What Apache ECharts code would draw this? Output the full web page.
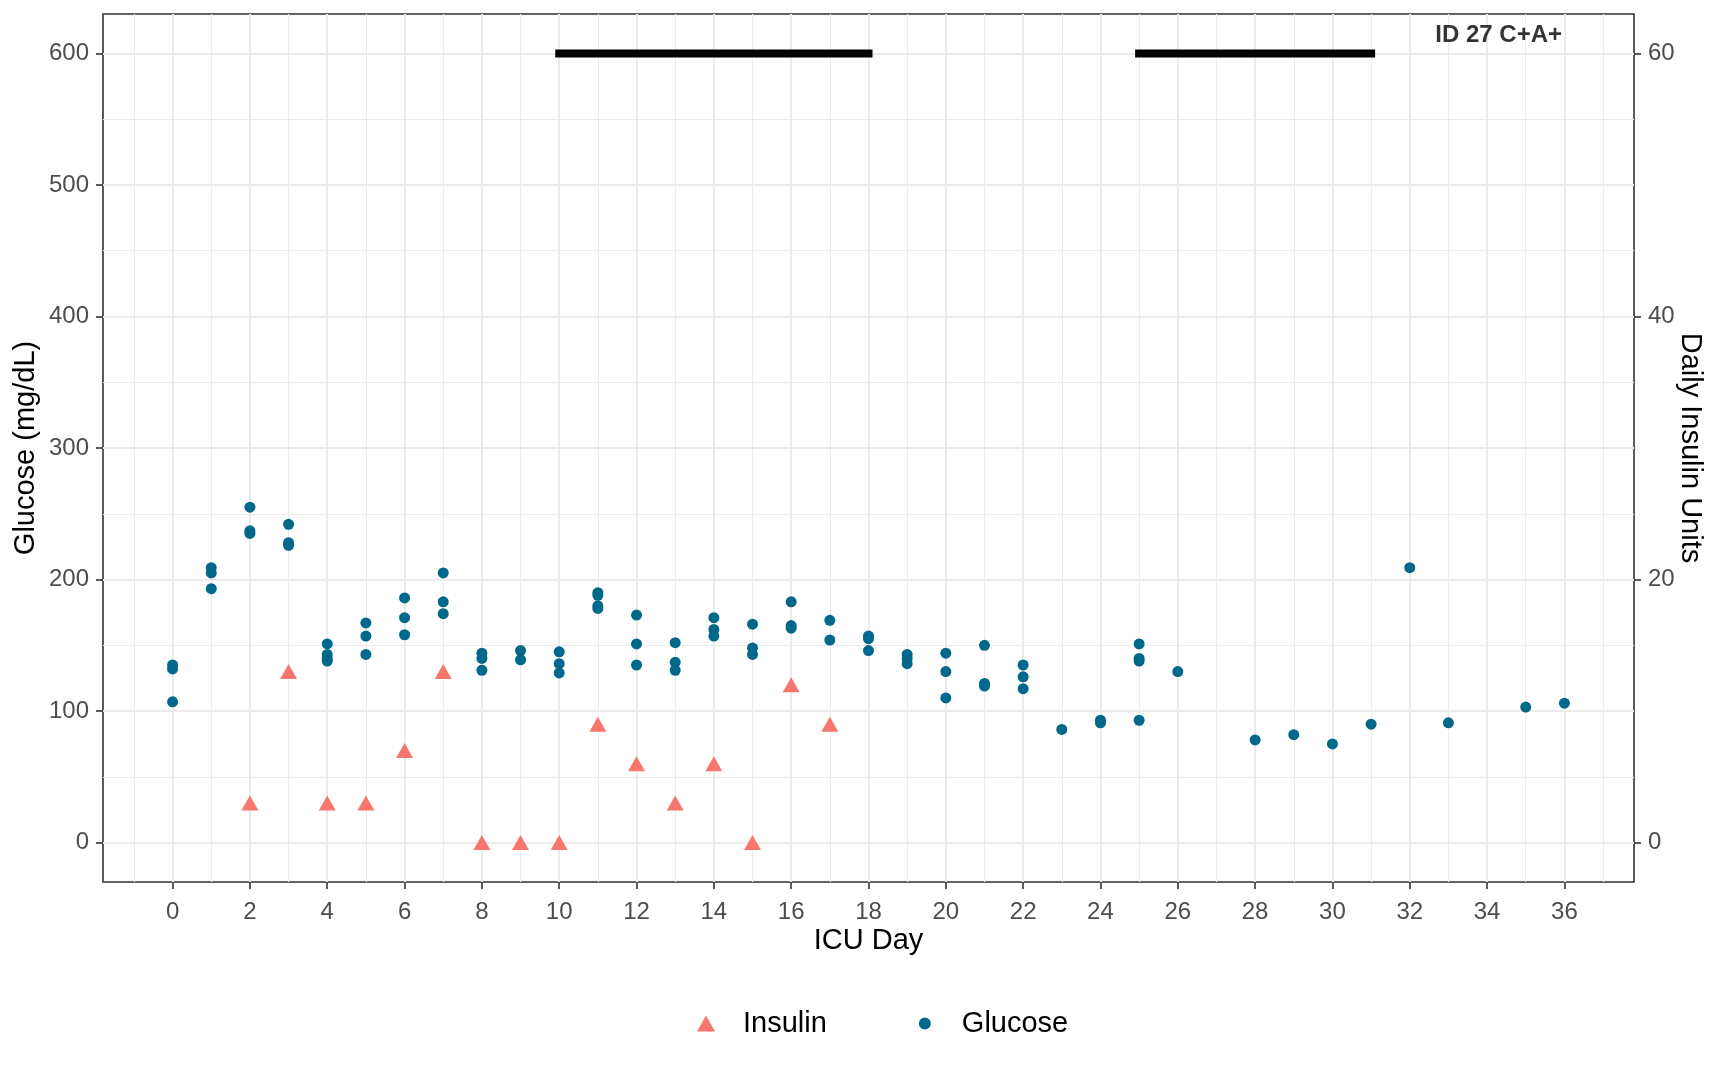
<!DOCTYPE html>
<html>
<head>
<meta charset="utf-8">
<script src="https://cdn.jsdelivr.net/npm/echarts@6/dist/echarts.min.js"></script>
<style>
html,body{margin:0;padding:0;background:#ffffff;}
#chart{width:1723px;height:1075px;}
</style>
</head>
<body>
<div id="chart"></div>
<script>
// ---------- data ----------
const xTicks = [0, 2, 4, 6, 8, 10, 12, 14, 16, 18, 20, 22, 24, 26, 28, 30, 32, 34, 36];
const xMinorTicks = [-1, 1, 3, 5, 7, 9, 11, 13, 15, 17, 19, 21, 23, 25, 27, 29, 31, 33, 35, 37];
const glucoseTicks = [0, 100, 200, 300, 400, 500, 600];
const glucoseMinorTicks = [50, 150, 250, 350, 450, 550];
const insulinTicks = [0, 20, 40, 60];

const insulinDays  = [2, 3, 4, 5, 6, 7, 8, 9, 10, 11, 12, 13, 14, 15, 16, 17];
const insulinUnits = [3, 13, 3, 3, 7, 13, 0, 0, 0, 9, 6, 3, 6, 0, 12, 9];

const glucoseDays = [
  0, 0, 0,
  1, 1, 1,
  2, 2, 2,
  3, 3, 3,
  4, 4, 4, 4,
  5, 5, 5,
  6, 6, 6,
  7, 7, 7,
  8, 8, 8,
  9, 9,
  10, 10, 10,
  11, 11, 11, 11,
  12, 12, 12,
  13, 13, 13,
  14, 14, 14,
  15, 15, 15,
  16, 16, 16,
  17, 17,
  18, 18, 18,
  19, 19, 19,
  20, 20, 20,
  21, 21, 21,
  22, 22, 22,
  23,
  24, 24,
  25, 25, 25, 25,
  26,
  28, 29, 30, 31, 32, 33, 35, 36
];
const glucoseValues = [
  135, 132, 107,
  209, 205, 193,
  255, 237, 235,
  242, 228, 226,
  151, 143, 140, 138,
  167, 157, 143,
  186, 171, 158,
  205, 183, 174,
  144, 140, 131,
  146, 139,
  145, 136, 129,
  190, 188, 180, 178,
  173, 151, 135,
  152, 137, 131,
  171, 162, 157,
  166, 148, 143,
  183, 165, 163,
  169, 154,
  157, 155, 146,
  143, 140, 136,
  144, 130, 110,
  150, 121, 119,
  135, 126, 117,
  86,
  93, 91,
  151, 140, 138, 93,
  130,
  78, 82, 75, 90, 209, 91, 103, 106
];

const periodStart = [10, 25];
const periodEnd = [18, 31];
const periodLevel = 600;

const annotationText = 'ID 27 C+A+';
const annotationPos = [34.3, 614];

// ---------- styles ----------
const FONT = 'Liberation Sans, Arial, Helvetica, sans-serif';
const GLUCOSE_COLOR = '#00688B';
const INSULIN_COLOR = '#F8766D';
const GRID_COLOR = '#EBEBEB';
const BORDER_COLOR = '#333333';
const TICK_TEXT = '#4D4D4D';

const glucoseData = glucoseDays.map((d, i) => [d, glucoseValues[i]]);
const insulinData = insulinDays.map((d, i) => [d, insulinUnits[i]]);

const periodSeries = periodStart.map((s, i) => ({
  type: 'line',
  name: 'period' + i,
  xAxisIndex: 0,
  yAxisIndex: 0,
  data: [[s, periodLevel], [periodEnd[i], periodLevel]],
  showSymbol: false,
  symbol: 'none',
  silent: true,
  z: 4,
  lineStyle: { color: '#000000', width: 8, cap: 'square' }
}));

const chart = echarts.init(document.getElementById('chart'), null, { renderer: 'canvas' });

const option = {
  animation: false,
  backgroundColor: '#ffffff',
  textStyle: { fontFamily: FONT },
  grid: {
    left: 103, right: 89, top: 14, bottom: 193,
    containLabel: false,
    outerBoundsMode: 'none',
    show: true,
    backgroundColor: '#ffffff',
    borderColor: BORDER_COLOR,
    borderWidth: 1.6
  },
  legend: {
    data: [
      { name: 'Insulin' },
      { name: 'Glucose', itemStyle: { borderColor: '#ffffff', borderWidth: 4 } }
    ],
    orient: 'horizontal',
    left: 692,
    top: 1004,
    itemWidth: 18,
    itemHeight: 16,
    itemGap: 88,
    selectedMode: false,
    textStyle: { fontSize: 29, color: '#000000', fontFamily: FONT, padding: [0, 0, 0, 23] }
  },
  xAxis: [
    {
      type: 'value', min: -1.8, max: 37.8, position: 'bottom',
      name: 'ICU Day', nameLocation: 'middle', nameGap: 44, nameMoveOverlap: false,
      nameTextStyle: { fontSize: 29, color: '#000000', fontFamily: FONT },
      axisLine: { show: false, onZero: false },
      axisTick: { show: true, length: 7, customValues: xTicks, lineStyle: { color: BORDER_COLOR, width: 1.6 } },
      axisLabel: { show: true, customValues: xTicks, fontSize: 24, color: TICK_TEXT, margin: 18, fontFamily: FONT },
      splitLine: { show: true, lineStyle: { color: GRID_COLOR, width: 2 } },
      z: 1
    },
    {
      type: 'value', min: -1.8, max: 37.8, position: 'bottom',
      axisLine: { show: false, onZero: false },
      axisTick: { show: false, customValues: xMinorTicks },
      axisLabel: { show: false, customValues: xMinorTicks },
      splitLine: { show: true, lineStyle: { color: GRID_COLOR, width: 1 } },
      z: 0
    }
  ],
  yAxis: [
    {
      type: 'value', min: -30, max: 630, position: 'left',
      name: 'Glucose (mg/dL)', nameLocation: 'middle', nameGap: 63, nameRotate: 90, nameMoveOverlap: false,
      nameTextStyle: { fontSize: 29, color: '#000000', fontFamily: FONT },
      axisLine: { show: false, onZero: false },
      axisTick: { show: true, length: 7, customValues: glucoseTicks, lineStyle: { color: BORDER_COLOR, width: 1.6 } },
      axisLabel: { show: true, customValues: glucoseTicks, fontSize: 24, color: TICK_TEXT, margin: 14, fontFamily: FONT },
      splitLine: { show: true, lineStyle: { color: GRID_COLOR, width: 2 } },
      z: 1
    },
    {
      type: 'value', min: -3, max: 63, position: 'right',
      name: 'Daily Insulin Units', nameLocation: 'middle', nameGap: 41, nameRotate: -90, nameMoveOverlap: false,
      nameTextStyle: { fontSize: 29, color: '#000000', fontFamily: FONT },
      axisLine: { show: false, onZero: false },
      axisTick: { show: true, length: 7, customValues: insulinTicks, lineStyle: { color: BORDER_COLOR, width: 1.6 } },
      axisLabel: { show: true, customValues: insulinTicks, fontSize: 24, color: TICK_TEXT, margin: 14, fontFamily: FONT },
      splitLine: { show: false }
    },
    {
      type: 'value', min: -30, max: 630, position: 'left',
      axisLine: { show: false, onZero: false },
      axisTick: { show: false, customValues: glucoseMinorTicks },
      axisLabel: { show: false, customValues: glucoseMinorTicks },
      splitLine: { show: true, lineStyle: { color: GRID_COLOR, width: 1 } },
      z: 0
    }
  ],
  series: [
    {
      name: 'Insulin', type: 'scatter', xAxisIndex: 0, yAxisIndex: 1,
      data: insulinData,
      symbol: 'triangle', symbolSize: [17, 15], symbolOffset: [0, 0],
      itemStyle: { color: INSULIN_COLOR, opacity: 1 },
      z: 3
    },
    {
      name: 'Glucose', type: 'scatter', xAxisIndex: 0, yAxisIndex: 0,
      data: glucoseData,
      symbol: 'circle', symbolSize: 11,
      itemStyle: { color: GLUCOSE_COLOR, opacity: 1 },
      z: 3
    },
    ...periodSeries,
    {
      name: 'annotation', type: 'scatter', xAxisIndex: 0, yAxisIndex: 0,
      data: [annotationPos],
      symbol: 'circle', symbolSize: 1,
      silent: true,
      itemStyle: { color: 'rgba(0,0,0,0)' },
      label: {
        show: true, position: 'inside', formatter: annotationText,
        fontSize: 24, fontWeight: 'bold', color: '#000000', fontFamily: FONT
      },
      z: 5
    }
  ]
};

chart.setOption(option);
</script>
</body>
</html>
